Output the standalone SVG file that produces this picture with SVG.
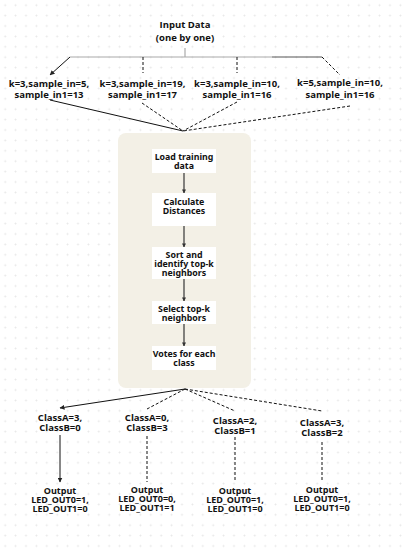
<svg xmlns="http://www.w3.org/2000/svg" width="402" height="551" viewBox="0 0 402 551">
<defs>
<pattern id="grid" width="10.4" height="10.4" patternUnits="userSpaceOnUse">
<path d="M4.2 5.2h2M5.2 4.2v2" stroke="#e6e6e6" stroke-width="0.8"/>
</pattern>
<marker id="ah" viewBox="0 0 10 10" refX="9" refY="5" markerWidth="5" markerHeight="5" orient="auto" markerUnits="userSpaceOnUse">
<path d="M0 0L10 5L0 10z" fill="#222"/>
</marker>
<marker id="ahs" viewBox="0 0 10 10" refX="9" refY="5" markerWidth="4" markerHeight="4" orient="auto" markerUnits="userSpaceOnUse">
<path d="M0 0L10 5L0 10z" fill="#333"/>
</marker>
</defs>
<style>
text{font-family:"Open Sans","Noto Sans",sans-serif;font-weight:bold;fill:#111;text-anchor:middle}
.lbl{font-size:9.5px}
.out{font-size:9px}
.box{font-size:8.8px;font-family:"Noto Sans","Open Sans",sans-serif}
.sol{stroke:#111;stroke-width:1;fill:none}
.dsh{stroke:#111;stroke-width:1;fill:none;stroke-dasharray:3 2}
.inner{stroke:#444;stroke-width:1.3;fill:none}
.wb{fill:#fff}
</style>
<rect width="402" height="551" fill="#fff"/>
<rect width="402" height="551" fill="url(#grid)"/>

<g id="input">
<text class="lbl" x="185" y="28">Input Data<tspan x="185" dy="13">(one by one)</tspan></text>
</g>

<g id="container">
<rect x="118" y="133" width="133" height="255" rx="8" fill="#f3f0e6"/>
</g>

<g id="in1"><text class="lbl" x="49" y="87">k=3,sample_in=5,<tspan x="49" dy="11">sample_in1=13</tspan></text></g>
<g id="in2"><text class="lbl" x="142.5" y="87">k=3,sample_in=19,<tspan x="142.5" dy="11">sample_in1=17</tspan></text></g>
<g id="in3"><text class="lbl" x="237" y="87">k=3,sample_in=10,<tspan x="237" dy="11">sample_in1=16</tspan></text></g>
<g id="in4"><text class="lbl" x="340" y="86">k=5,sample_in=10,<tspan x="340" dy="12">sample_in1=16</tspan></text></g>

<g id="step1"><rect class="wb" x="152" y="149" width="64" height="24"/><text class="box" x="184" y="160">Load training<tspan x="184" dy="9">data</tspan></text></g>
<g id="step2"><rect class="wb" x="152" y="193" width="64" height="33"/><text class="box" x="184" y="205">Calculate<tspan x="184" dy="8.5">Distances</tspan></text></g>
<g id="step3"><rect class="wb" x="152" y="247" width="64" height="32"/><text class="box" x="184" y="258">Sort and<tspan x="184" dy="9">identify top-k</tspan><tspan x="184" dy="9">neighbors</tspan></text></g>
<g id="step4"><rect class="wb" x="152" y="301" width="64" height="23"/><text class="box" x="184" y="312">Select top-k<tspan x="184" dy="9">neighbors</tspan></text></g>
<g id="step5"><rect class="wb" x="152" y="346" width="64" height="24"/><text class="box" x="184" y="356.5">Votes for each<tspan x="184" dy="9">class</tspan></text></g>

<g id="c1"><text class="lbl" x="60" y="421">ClassA=3,<tspan x="60" dy="10">ClassB=0</tspan></text></g>
<g id="c2"><text class="lbl" x="147" y="421">ClassA=0,<tspan x="147" dy="10">ClassB=3</tspan></text></g>
<g id="c3"><text class="lbl" x="235" y="424">ClassA=2,<tspan x="235" dy="10">ClassB=1</tspan></text></g>
<g id="c4"><text class="lbl" x="322" y="426">ClassA=3,<tspan x="322" dy="10">ClassB=2</tspan></text></g>

<g id="o1"><text class="out" x="60" y="494">Output<tspan x="60" dy="9">LED_OUT0=1,</tspan><tspan x="60" dy="8.5">LED_OUT1=0</tspan></text></g>
<g id="o2"><text class="out" x="147" y="493">Output<tspan x="147" dy="9">LED_OUT0=0,</tspan><tspan x="147" dy="8.5">LED_OUT1=1</tspan></text></g>
<g id="o3"><text class="out" x="235" y="494">Output<tspan x="235" dy="9">LED_OUT0=1,</tspan><tspan x="235" dy="8.5">LED_OUT1=0</tspan></text></g>
<g id="o4"><text class="out" x="322" y="493">Output<tspan x="322" dy="9">LED_OUT0=1,</tspan><tspan x="322" dy="8.5">LED_OUT1=0</tspan></text></g>

<g id="connectors">
<line x1="185" y1="48" x2="185" y2="57" stroke="#999" stroke-width="1"/>
<line x1="70" y1="57" x2="272" y2="57" stroke="#aaa" stroke-width="1.2"/>
<line x1="272" y1="57" x2="322" y2="57" stroke="#555" stroke-width="1.2"/>
<line class="sol" x1="70" y1="57" x2="50" y2="75" marker-end="url(#ah)"/>
<line class="dsh" x1="143" y1="57" x2="143" y2="73"/>
<line class="dsh" x1="237" y1="57" x2="237" y2="73"/>
<line class="dsh" x1="322" y1="57" x2="340" y2="75" stroke-dasharray="2 1.5"/>

<line class="sol" x1="50" y1="100" x2="183" y2="131"/>
<line class="dsh" x1="142" y1="103" x2="183" y2="131" stroke-dasharray="2 1.5"/>
<line class="dsh" x1="237" y1="102" x2="183" y2="131" stroke-dasharray="2 1.5"/>
<line class="dsh" x1="350" y1="106" x2="183" y2="131"/>

<line class="inner" x1="184" y1="173" x2="184" y2="193" marker-end="url(#ahs)"/>
<line class="inner" x1="184" y1="226" x2="184" y2="247" marker-end="url(#ahs)"/>
<line class="inner" x1="184" y1="279" x2="184" y2="301" marker-end="url(#ahs)"/>
<line class="inner" x1="184" y1="324" x2="184" y2="346" marker-end="url(#ahs)"/>

<line class="sol" x1="185" y1="389" x2="60" y2="408" marker-end="url(#ah)"/>
<line class="dsh" x1="185" y1="389" x2="147" y2="409" stroke-dasharray="2 1.5"/>
<line class="dsh" x1="185" y1="389" x2="235" y2="411"/>
<line class="dsh" x1="185" y1="389" x2="322" y2="411"/>

<line class="sol" x1="60" y1="435" x2="60" y2="482" marker-end="url(#ah)"/>
<line class="dsh" x1="147" y1="436" x2="147" y2="482"/>
<line class="dsh" x1="235" y1="437" x2="235" y2="482"/>
<line class="dsh" x1="322" y1="442" x2="322" y2="482"/>
</g>
</svg>
